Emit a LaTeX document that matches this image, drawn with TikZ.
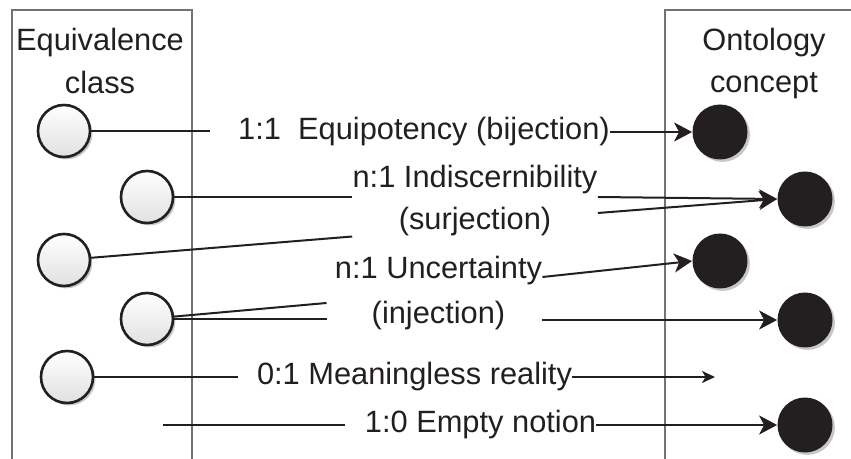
\documentclass[tikz,border=0pt]{standalone}
\usepackage{fontspec}
\setmainfont{Liberation Sans}
\usetikzlibrary{arrows.meta,shadows,calc}

\definecolor{ink}{HTML}{231F20}

\tikzset{
  classdot/.style={circle, minimum size=26pt, inner sep=0pt, draw=ink, line width=1.3pt,
    top color=white, bottom color=black!12,
    drop shadow={shadow xshift=1.2pt, shadow yshift=-1.2pt, fill=black!22, opacity=1}},
  conceptdot/.style={circle, minimum size=27.5pt, inner sep=0pt, fill=ink,
    drop shadow={shadow xshift=1.2pt, shadow yshift=-1.2pt, fill=black!22, opacity=1}},
  lbl/.style={inner sep=0pt, text=ink, font=\fontsize{15.4}{21.25}\selectfont},
  frame/.style={draw=black!55, line width=0.6pt},
  link/.style={draw=ink, line width=1pt},
  tip/.style={link, -{Stealth[length=9pt,width=9.5pt,inset=2.5pt]}},
  smalltip/.style={link, -{Stealth[length=6.5pt,width=6pt,inset=1.8pt]}}
}

\begin{document}
\begin{tikzpicture}[x=0.5pt,y=-0.5pt]
\useasboundingbox (0,0) rectangle (851,459);

\draw[frame] (12,459) -- (12,10) -- (192,10) -- (192,459);
\draw[frame] (665,459) -- (665,10) -- (851,10);

\node[lbl, align=center, anchor=north] (eqhead) at (100,28) {Equivalence\\class};
\node[lbl, align=center, anchor=north] (onhead) at (764,27.5) {Ontology\\concept};

\node[classdot] (e1) at (64,131) {};
\node[classdot] (e2) at (147,197) {};
\node[classdot] (e3) at (64,260) {};
\node[classdot] (e4) at (147,319) {};
\node[classdot] (e5) at (67,377) {};

\node[conceptdot] (o1) at (720,132) {};
\node[conceptdot] (o2) at (805,199) {};
\node[conceptdot] (o3) at (720,261) {};
\node[conceptdot] (o4) at (805,320) {};
\node[conceptdot] (o5) at (805,425) {};

\node[lbl] (equi) at (424,132) {1:1\ \ Equipotency (bijection)};
\node[lbl, align=center, anchor=north] (indis) at (475,164.5) {n:1 Indiscernibility\\(surjection)};
\node[lbl, align=center, anchor=north, font=\fontsize{15.4}{22.25}\selectfont] (uncert) at (438.5,256) {n:1 Uncertainty\\(injection)};
\node[lbl] (mean) at (414.5,377) {0:1 Meaningless reality};
\node[lbl] (empty) at (480.5,425) {1:0 Empty notion};

\coordinate (void) at (715,377);
\coordinate (lost) at (163,425);

\draw[link] (e1) -- ($(e1 -| equi.west)+(-28,0)$);
\draw[tip] (equi.east) -- (o1.west);

\draw[link] (e2) -- (e2 -| indis.west);
\draw[link] (e3) -- (indis.south west);
\draw[tip] ($(indis.north east)+(0,32.5)$) -- (o2.west);
\draw[tip] ($(indis.north east)+(0,48.5)$) -- (o2.west);

\draw[link] (e4) -- ($(uncert.north west)+(-8,47)$);
\draw[link] (e4) -- ($(e4 -| uncert.west)+(-8,0)$);
\draw[tip] ($(uncert.north east)+(0,21)$) -- (o3.west);
\draw[tip] (uncert.east |- o4) -- (o4.west);

\draw[link] (e5) -- ($(e5 -| mean.west)+(-19,0)$);
\draw[smalltip] (mean.east) -- (void);

\draw[link] (lost) -- ($(empty.west)+(-20,0)$);
\draw[tip] (empty.east) -- (o5.west);
\end{tikzpicture}
\end{document}
